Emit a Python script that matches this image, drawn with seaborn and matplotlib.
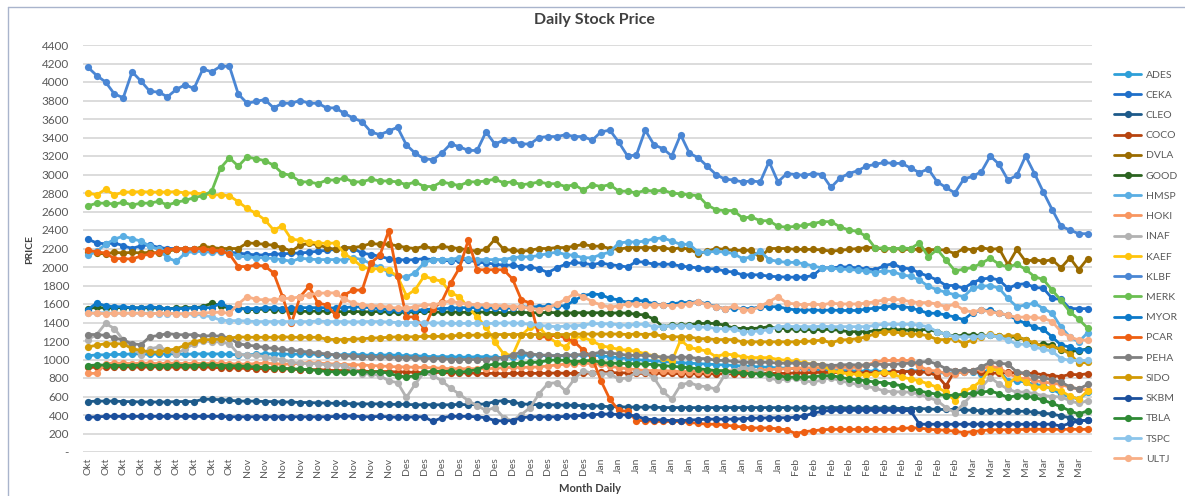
import matplotlib
matplotlib.use('Agg')
import matplotlib.pyplot as plt
import seaborn as sns
import pandas as pd
import numpy as np
from matplotlib.lines import Line2D
from matplotlib.ticker import FuncFormatter

# trading days per month label (x axis categories)
months = ['Okt', 'Nov', 'Des', 'Jan', 'Feb', 'Mar']
days_per_month = [18, 18, 22, 22, 20, 14]

# daily closing prices, one list per stock
ADES = [1040, 1050, 1050, 1055, 1055, 1060, 1060, 1055, 1060, 1060, 1060, 1055, 1060, 1060, 1060, 1060, 1055, 1050,
        1050, 1055, 1060, 1060, 1060, 1055, 1060, 1060, 1055, 1050, 1050, 1050, 1055, 1050, 1045, 1045, 1050, 1045,
        1040, 1040, 1035, 1030, 1030, 1030, 1025, 1025, 1030, 1030, 1025, 1020, 1030, 1040, 1050, 1045, 1040, 1040, 1040, 1045, 1045, 1045,
        1040, 1030, 1020, 1010, 1000, 990, 985, 980, 970, 965, 960, 955, 950, 945, 940, 935, 930, 925, 920, 915, 910, 905,
        900, 895, 890, 885, 880, 880, 880, 875, 875, 875, 870, 870, 870, 875, 880, 870, 860, 850, 860, 865,
        870, 845, 900, 880, 770, 770, 755, 730, 720, 680, 625, 600, 570, 645]
CEKA = [2300, 2260, 2250, 2260, 2230, 2200, 2230, 2240, 2210, 2200, 2200, 2190, 2200, 2190, 2180, 2170, 2160, 2150,
        2140, 2130, 2130, 2140, 2140, 2150, 2150, 2160, 2170, 2180, 2190, 2210, 2200, 2150, 2135, 2115, 2090, 2080,
        2075, 2080, 2090, 2080, 2075, 2065, 2075, 2080, 2050, 2045, 2030, 2020, 2020, 2000, 2000, 1980, 1940, 1990, 2030, 2050, 2040, 2025,
        2045, 2025, 2015, 2000, 2060, 2050, 2030, 2030, 2030, 2010, 2000, 1990, 1980, 1980, 1955, 1945, 1915, 1915, 1915, 1900, 1895, 1890,
        1890, 1890, 1910, 1990, 1990, 2000, 2000, 1990, 1980, 1970, 2015, 2035, 1990, 1980, 1935, 1900, 1860, 1800, 1800, 1770,
        1830, 1870, 1880, 1860, 1770, 1810, 1820, 1780, 1770, 1660, 1650, 1550, 1550, 1550]
CLEO = [545, 550, 550, 550, 545, 545, 540, 540, 540, 540, 545, 545, 545, 570, 570, 565, 560, 550,
        550, 550, 545, 545, 540, 540, 535, 535, 530, 530, 525, 525, 520, 520, 520, 520, 515, 515,
        515, 510, 510, 510, 510, 510, 515, 510, 515, 520, 545, 555, 540, 520, 515, 510, 510, 510, 505, 505, 500, 500,
        495, 490, 490, 485, 485, 485, 485, 480, 480, 480, 480, 480, 480, 480, 480, 480, 480, 480, 480, 480, 480, 480,
        475, 475, 475, 475, 480, 480, 475, 475, 475, 475, 475, 475, 470, 470, 470, 465, 460, 460, 460, 455,
        450, 445, 445, 445, 440, 440, 440, 430, 420, 410, 390, 370, 335, 345]
COCO = [915, 915, 915, 920, 920, 920, 915, 920, 920, 915, 920, 915, 920, 920, 915, 910, 910, 905,
        905, 900, 900, 900, 900, 895, 890, 890, 890, 885, 880, 880, 880, 875, 870, 870, 870, 865,
        865, 860, 860, 860, 860, 855, 855, 855, 850, 850, 850, 845, 850, 850, 850, 850, 850, 855, 850, 850, 850, 855,
        860, 860, 855, 855, 850, 850, 850, 850, 850, 845, 845, 845, 845, 845, 845, 845, 845, 845, 850, 850, 850, 850,
        855, 855, 860, 860, 860, 860, 855, 855, 855, 855, 855, 865, 870, 870, 865, 860, 825, 715, 880, 875,
        875, 860, 855, 850, 860, 855, 850, 850, 835, 825, 815, 840, 835, 845]
DVLA = [2160, 2150, 2140, 2160, 2150, 2160, 2150, 2160, 2150, 2170, 2190, 2200, 2190, 2225, 2210, 2200, 2200, 2200,
        2260, 2255, 2245, 2235, 2210, 2170, 2235, 2255, 2240, 2210, 2190, 2210, 2210, 2225, 2255, 2245, 2245, 2230,
        2210, 2200, 2225, 2200, 2225, 2210, 2200, 2185, 2170, 2190, 2300, 2190, 2180, 2170, 2180, 2200, 2200, 2210, 2210, 2225, 2245, 2225,
        2225, 2200, 2190, 2210, 2210, 2210, 2210, 2210, 2190, 2210, 2190, 2145, 2170, 2200, 2190, 2180, 2180, 2180, 2100, 2200, 2200, 2200,
        2190, 2190, 2190, 2185, 2170, 2180, 2190, 2200, 2210, 2210, 2190, 2200, 2190, 2190, 2190, 2185, 2190, 2180, 2145, 2200,
        2185, 2210, 2190, 2200, 2025, 2190, 2060, 2080, 2060, 2080, 1990, 2100, 1970, 2090]
GOOD = [1550, 1565, 1555, 1560, 1560, 1560, 1555, 1560, 1555, 1550, 1555, 1560, 1560, 1570, 1610, 1580, 1555, 1555,
        1540, 1540, 1545, 1540, 1530, 1525, 1520, 1520, 1525, 1520, 1520, 1515, 1520, 1515, 1515, 1520, 1510, 1510,
        1510, 1515, 1520, 1515, 1510, 1515, 1510, 1510, 1515, 1510, 1510, 1505, 1510, 1510, 1505, 1505, 1510, 1505, 1500, 1505, 1505, 1505,
        1505, 1500, 1505, 1500, 1490, 1480, 1435, 1355, 1370, 1370, 1375, 1390, 1390, 1390, 1370, 1340, 1335, 1335, 1340, 1355, 1335, 1335,
        1325, 1325, 1320, 1325, 1325, 1315, 1300, 1300, 1300, 1310, 1320, 1325, 1320, 1315, 1320, 1325, 1300, 1275, 1250, 1265,
        1265, 1260, 1260, 1250, 1245, 1240, 1215, 1155, 1165, 1155, 1100, 1090, 1095, 1115]
HMSP = [2125, 2170, 2245, 2300, 2335, 2305, 2280, 2225, 2190, 2100, 2060, 2150, 2170, 2165, 2160, 2165, 2150, 2115,
        2110, 2100, 2100, 2090, 2080, 2060, 2095, 2085, 2080, 2080, 2080, 2075, 2100, 2080, 2035, 2000, 1940, 1900,
        1890, 1940, 2045, 2080, 2080, 2080, 2100, 2090, 2080, 2080, 2080, 2080, 2100, 2110, 2110, 2125, 2145, 2160, 2135, 2125, 2100, 2100,
        2135, 2160, 2260, 2270, 2270, 2280, 2305, 2315, 2280, 2245, 2245, 2160, 2160, 2170, 2160, 2145, 2090, 2110, 2170, 2080, 2060, 2050,
        2050, 2035, 2010, 1990, 1990, 1975, 1975, 1965, 1955, 1940, 1960, 1950, 1915, 1900, 1860, 1790, 1755, 1725, 1700, 1680,
        1770, 1790, 1800, 1770, 1660, 1570, 1590, 1610, 1550, 1500, 1350, 1245, 1190, 1290]
HOKI = [850, 850, 955, 960, 960, 955, 960, 960, 955, 960, 960, 955, 960, 955, 960, 960, 955, 950,
        950, 955, 960, 955, 950, 950, 960, 965, 960, 955, 950, 945, 945, 940, 935, 930, 925, 920,
        920, 915, 915, 910, 905, 900, 900, 900, 900, 900, 905, 910, 915, 915, 915, 920, 930, 940, 950, 955, 960, 955,
        950, 930, 910, 900, 890, 880, 880, 880, 875, 870, 870, 870, 870, 875, 875, 880, 880, 880, 885, 890, 895, 900,
        905, 910, 910, 915, 915, 915, 915, 915, 940, 970, 990, 990, 990, 990, 925, 885, 875, 850, 845, 870,
        880, 900, 925, 910, 850, 805, 790, 775, 755, 745, 730, 700, 680, 670]
INAF = [1215, 1270, 1390, 1335, 1210, 1135, 1045, 1115, 1135, 1100, 1060, 1115, 1170, 1205, 1190, 1190, 1170, 1060,
        1045, 1045, 1030, 1010, 1000, 970, 960, 955, 955, 940, 940, 935, 890, 845, 845, 825, 770, 750,
        590, 735, 860, 825, 770, 690, 625, 555, 500, 450, 480, 370, 340, 405, 480, 630, 740, 750, 660, 790, 880, 850,
        845, 845, 790, 800, 860, 860, 800, 655, 570, 725, 750, 715, 705, 680, 835, 880, 915, 900, 870, 805, 775, 790,
        800, 770, 755, 780, 805, 770, 750, 730, 710, 690, 660, 650, 650, 645, 625, 590, 555, 480, 425, 525,
        625, 700, 805, 735, 680, 645, 650, 630, 610, 600, 595, 555, 525, 555]
KAEF = [2800, 2780, 2840, 2780, 2810, 2810, 2815, 2810, 2810, 2810, 2815, 2800, 2800, 2790, 2780, 2780, 2770, 2705,
        2633, 2580, 2510, 2400, 2445, 2300, 2290, 2270, 2260, 2255, 2260, 2145, 2080, 2000, 1980, 1980, 1965, 1900,
        1690, 1755, 1900, 1870, 1845, 1720, 1680, 1560, 1460, 1350, 1190, 1060, 1045, 1260, 1350, 1350, 1245, 1180, 1135, 1245, 1240, 1200,
        1150, 1130, 1110, 1100, 1090, 1060, 1040, 1020, 980, 1210, 1130, 1110, 1090, 1030, 1060, 1050, 1030, 1020, 1020, 1020, 1000, 990,
        980, 960, 950, 940, 880, 860, 845, 840, 830, 845, 860, 840, 810, 790, 770, 735, 700, 645, 555, 655,
        700, 770, 900, 880, 735, 810, 755, 700, 705, 690, 660, 605, 570, 660]
KLBF = [4160, 4070, 4000, 3870, 3830, 4110, 4010, 3900, 3890, 3840, 3920, 3970, 3930, 4140, 4110, 4170, 4170, 3870,
        3770, 3790, 3810, 3720, 3770, 3770, 3800, 3770, 3770, 3720, 3720, 3660, 3610, 3570, 3460, 3430, 3470, 3510,
        3320, 3230, 3170, 3160, 3230, 3330, 3300, 3260, 3260, 3460, 3330, 3370, 3370, 3330, 3330, 3400, 3410, 3410, 3430, 3410, 3410, 3370,
        3460, 3480, 3350, 3200, 3210, 3480, 3320, 3280, 3200, 3430, 3230, 3180, 3090, 3000, 2950, 2940, 2920, 2930, 2920, 3140, 2920, 3010,
        3000, 2990, 3010, 3000, 2860, 2960, 3010, 3040, 3090, 3110, 3130, 3120, 3120, 3070, 3020, 3060, 2920, 2860, 2800, 2950,
        2980, 3030, 3200, 3110, 2940, 2990, 3200, 3010, 2810, 2620, 2440, 2400, 2360, 2360]
MERK = [2660, 2690, 2690, 2680, 2700, 2670, 2690, 2690, 2710, 2670, 2700, 2720, 2750, 2770, 2820, 3070, 3180, 3090,
        3190, 3170, 3150, 3100, 3010, 2990, 2920, 2920, 2900, 2940, 2940, 2960, 2920, 2920, 2950, 2930, 2930, 2920,
        2890, 2920, 2870, 2870, 2920, 2900, 2880, 2920, 2920, 2930, 2950, 2910, 2920, 2890, 2900, 2920, 2900, 2900, 2870, 2890, 2830, 2890,
        2870, 2890, 2820, 2820, 2800, 2830, 2820, 2830, 2800, 2790, 2780, 2770, 2670, 2620, 2610, 2610, 2530, 2540, 2500, 2500, 2440, 2430,
        2440, 2450, 2470, 2490, 2490, 2435, 2400, 2385, 2330, 2205, 2205, 2195, 2205, 2200, 2260, 2110, 2190, 2075, 1960, 1975,
        1995, 2040, 2095, 2030, 2000, 2030, 1975, 1895, 1865, 1750, 1640, 1515, 1435, 1340]
MYOR = [1540, 1610, 1580, 1570, 1570, 1560, 1560, 1570, 1560, 1550, 1550, 1550, 1560, 1560, 1560, 1610, 1560, 1550,
        1550, 1550, 1560, 1560, 1550, 1555, 1560, 1560, 1560, 1560, 1555, 1560, 1570, 1565, 1560, 1550, 1540, 1530,
        1520, 1530, 1540, 1545, 1550, 1555, 1560, 1560, 1560, 1560, 1555, 1550, 1560, 1565, 1570, 1570, 1575, 1580, 1580, 1640, 1690, 1710,
        1700, 1660, 1645, 1615, 1640, 1630, 1600, 1590, 1600, 1615, 1615, 1625, 1600, 1570, 1550, 1560, 1550, 1550, 1570, 1570, 1570, 1550,
        1535, 1535, 1535, 1530, 1535, 1530, 1530, 1530, 1545, 1555, 1565, 1580, 1570, 1560, 1530, 1500, 1500, 1480, 1460, 1430,
        1505, 1535, 1530, 1500, 1480, 1430, 1390, 1350, 1325, 1245, 1155, 1135, 1100, 1105]
PCAR = [2180, 2165, 2150, 2090, 2090, 2085, 2120, 2140, 2160, 2180, 2200, 2195, 2195, 2200, 2180, 2175, 2140, 2005,
        2005, 2020, 2010, 1935, 1680, 1390, 1680, 1790, 1610, 1590, 1480, 1700, 1750, 1750, 2045, 2125, 2390, 1900,
        1460, 1460, 1335, 1550, 1625, 1825, 1990, 2290, 1970, 1970, 1970, 1970, 1870, 1645, 1610, 1250, 1240, 1270, 1230, 1190, 1100, 1020,
        770, 570, 450, 440, 340, 340, 330, 330, 330, 330, 320, 310, 300, 300, 290, 280, 270, 260, 260, 260, 250, 240,
        200, 220, 230, 240, 245, 245, 245, 245, 245, 245, 245, 245, 255, 260, 260, 245, 240, 235, 225, 210,
        220, 230, 240, 240, 240, 240, 245, 245, 245, 245, 245, 245, 245, 245]
PEHA = [1270, 1270, 1260, 1235, 1210, 1170, 1160, 1245, 1260, 1280, 1270, 1265, 1270, 1250, 1260, 1250, 1235, 1170,
        1155, 1145, 1130, 1120, 1110, 1100, 1090, 1080, 1070, 1060, 1050, 1040, 1035, 1030, 1030, 1025, 1025, 1020,
        1020, 1015, 1010, 1010, 1010, 1000, 1000, 1000, 1000, 1000, 1010, 1020, 1050, 1080, 1060, 1050, 1045, 1040, 1045, 1050, 1055, 1060,
        1080, 1070, 1060, 1045, 1045, 1045, 1035, 1025, 1025, 1025, 1025, 1010, 1010, 990, 990, 980, 970, 970, 970, 970, 960, 960,
        960, 955, 950, 945, 935, 940, 945, 940, 940, 950, 945, 945, 955, 960, 970, 980, 950, 900, 880, 885,
        880, 920, 970, 960, 950, 865, 850, 810, 805, 780, 755, 705, 680, 730]
SIDO = [1135, 1155, 1170, 1170, 1170, 1115, 1100, 1080, 1080, 1100, 1115, 1155, 1190, 1215, 1215, 1220, 1230, 1245,
        1240, 1240, 1240, 1240, 1245, 1240, 1240, 1240, 1240, 1220, 1215, 1215, 1220, 1225, 1230, 1235, 1240, 1245,
        1245, 1245, 1250, 1250, 1250, 1255, 1260, 1260, 1265, 1265, 1270, 1270, 1270, 1270, 1270, 1270, 1270, 1270, 1270, 1275, 1275, 1275,
        1275, 1275, 1275, 1270, 1275, 1270, 1275, 1250, 1245, 1245, 1245, 1225, 1225, 1215, 1215, 1215, 1190, 1190, 1190, 1190, 1190, 1190,
        1190, 1195, 1200, 1210, 1180, 1210, 1215, 1225, 1245, 1280, 1300, 1300, 1285, 1275, 1275, 1255, 1215, 1215, 1225, 1170,
        1215, 1245, 1275, 1250, 1255, 1255, 1210, 1180, 1140, 1135, 1115, 1060, 960, 970]
SKBM = [375, 380, 385, 385, 385, 385, 385, 385, 385, 385, 385, 385, 385, 385, 385, 385, 380, 380,
        380, 380, 380, 380, 380, 380, 380, 380, 380, 380, 385, 385, 390, 380, 380, 385, 380, 375,
        375, 380, 380, 330, 370, 385, 385, 385, 380, 370, 340, 335, 340, 370, 380, 380, 380, 380, 385, 390, 395, 400,
        410, 410, 405, 400, 390, 355, 350, 345, 340, 340, 345, 350, 355, 355, 355, 355, 360, 365, 365, 370, 370, 370,
        375, 390, 420, 440, 450, 450, 450, 450, 450, 450, 450, 450, 450, 445, 300, 300, 300, 300, 300, 300,
        300, 300, 300, 300, 300, 300, 300, 300, 300, 300, 280, 310, 335, 345]
TBLA = [935, 940, 940, 935, 935, 935, 940, 935, 935, 935, 940, 935, 935, 940, 940, 935, 935, 930,
        925, 920, 915, 910, 905, 900, 895, 890, 880, 870, 865, 860, 870, 870, 860, 870, 850, 825,
        810, 825, 860, 875, 870, 875, 860, 875, 890, 935, 950, 950, 955, 960, 970, 970, 990, 995, 990, 975, 985, 990,
        970, 960, 960, 955, 955, 950, 945, 935, 925, 920, 910, 900, 890, 880, 880, 860, 855, 845, 845, 840, 825, 810,
        810, 810, 815, 825, 825, 810, 790, 780, 770, 755, 750, 735, 715, 690, 660, 640, 625, 610, 615, 625,
        635, 645, 660, 630, 590, 610, 605, 590, 560, 525, 490, 445, 410, 445]
TSPC = [1500, 1505, 1505, 1500, 1500, 1500, 1500, 1500, 1495, 1495, 1495, 1490, 1490, 1480, 1460, 1425, 1420, 1420,
        1415, 1410, 1410, 1410, 1410, 1410, 1410, 1410, 1415, 1410, 1410, 1410, 1405, 1410, 1410, 1410, 1405, 1400,
        1400, 1400, 1395, 1395, 1395, 1390, 1390, 1390, 1390, 1390, 1390, 1395, 1395, 1390, 1380, 1370, 1360, 1355, 1360, 1365, 1370, 1390,
        1385, 1385, 1375, 1370, 1380, 1380, 1355, 1355, 1365, 1365, 1365, 1350, 1350, 1335, 1330, 1330, 1300, 1300, 1310, 1320, 1355, 1360,
        1355, 1355, 1355, 1360, 1355, 1355, 1355, 1355, 1355, 1370, 1380, 1380, 1380, 1380, 1370, 1355, 1300, 1275, 1245, 1245,
        1245, 1250, 1260, 1245, 1210, 1165, 1165, 1135, 1110, 1090, 1010, 990, 990, 990]
ULTJ = [1500, 1500, 1495, 1500, 1500, 1500, 1500, 1495, 1500, 1500, 1495, 1495, 1500, 1500, 1510, 1510, 1500, 1600,
        1680, 1650, 1645, 1645, 1660, 1660, 1680, 1700, 1715, 1720, 1720, 1650, 1610, 1590, 1580, 1580, 1565, 1555,
        1555, 1570, 1590, 1590, 1610, 1635, 1610, 1600, 1590, 1590, 1580, 1580, 1570, 1570, 1555, 1540, 1560, 1600, 1650, 1715, 1680, 1625,
        1590, 1565, 1580, 1600, 1600, 1590, 1590, 1590, 1580, 1590, 1600, 1625, 1590, 1570, 1550, 1575, 1540, 1530, 1575, 1625, 1680, 1610,
        1600, 1590, 1600, 1590, 1610, 1600, 1600, 1600, 1610, 1625, 1645, 1650, 1645, 1625, 1615, 1615, 1600, 1570, 1600, 1530,
        1515, 1535, 1515, 1500, 1480, 1455, 1460, 1455, 1445, 1410, 1300, 1245, 1210, 1210]

stocks = ['ADES', 'CEKA', 'CLEO', 'COCO', 'DVLA', 'GOOD', 'HMSP', 'HOKI', 'INAF', 'KAEF',
          'KLBF', 'MERK', 'MYOR', 'PCAR', 'PEHA', 'SIDO', 'SKBM', 'TBLA', 'TSPC', 'ULTJ']
series = [ADES, CEKA, CLEO, COCO, DVLA, GOOD, HMSP, HOKI, INAF, KAEF,
          KLBF, MERK, MYOR, PCAR, PEHA, SIDO, SKBM, TBLA, TSPC, ULTJ]

palette = {
    'ADES': '#2E9FD8', 'CEKA': '#1F6FC9', 'CLEO': '#1D5A8A', 'COCO': '#B7440F',
    'DVLA': '#9A6B00', 'GOOD': '#2B6320', 'HMSP': '#5AAEE3', 'HOKI': '#F89660',
    'INAF': '#B2B2B2', 'KAEF': '#FFC40C', 'KLBF': '#4A86D4', 'MERK': '#6BBF52',
    'MYOR': '#0C79C9', 'PCAR': '#EE5F12', 'PEHA': '#808080', 'SIDO': '#D29A05',
    'SKBM': '#1B4F9C', 'TBLA': '#2E8A34', 'TSPC': '#8CC5EB', 'ULTJ': '#F8AF86',
}

day_labels = [m for m, n in zip(months, days_per_month) for _ in range(n)]
n_days = len(day_labels)
for name, vals in zip(stocks, series):
    assert len(vals) == n_days, (name, len(vals))

df = pd.DataFrame({
    'day': np.tile(np.arange(n_days), len(stocks)),
    'stock': np.repeat(stocks, n_days),
    'price': np.concatenate(series),
})

sns.set_style('white')
plt.rcParams['font.family'] = ['Lato', 'DejaVu Sans']

W, H = 1185, 496
fig = plt.figure(figsize=(W / 100, H / 100), dpi=100)
ax = fig.add_axes([83 / W, 1 - 452 / H, (1092 - 83) / W, (452 - 45) / H])

sns.lineplot(data=df, x='day', y='price', hue='stock', hue_order=stocks,
             palette=palette, marker='o', markersize=5.2, markeredgewidth=0,
             linewidth=2.0, errorbar=None, legend=False, ax=ax)

ax.set_xlim(-0.55, n_days - 0.5)
ax.set_ylim(0, 4400)
ax.set_yticks(range(0, 4401, 200))
ax.yaxis.set_major_formatter(FuncFormatter(lambda v, p: '-' if v == 0 else f'{int(v)}'))
ax.grid(axis='y', color='#D9D9D9', linewidth=1.3)
ax.set_axisbelow(True)
for s in ax.spines.values():
    s.set_visible(False)

ax.set_xticks(range(0, n_days, 2))
ax.set_xticklabels(day_labels[::2], rotation=90, fontsize=7.5, color='#595959')
ax.tick_params(axis='y', length=0, pad=10, labelsize=8.5, labelcolor='#595959')
ax.tick_params(axis='x', length=0, pad=4)
ax.set_xlabel('')
ax.set_ylabel('')

fig.text(0.502, 1 - 20 / H, 'Daily Stock Price', ha='center', va='center',
         fontsize=11.5, fontweight='bold', color='#404040')
fig.text(30 / W, 1 - 250 / H, 'PRICE', rotation=90, ha='center', va='center',
         fontsize=7.5, fontweight='bold', color='#404040')
fig.text(590 / W, 1 - 489 / H, 'Month Daily', ha='center', va='center',
         fontsize=8, fontweight='bold', color='#404040')

handles = [Line2D([0], [0], color=palette[s], lw=2.0, marker='o', markersize=5.2,
                  markeredgewidth=0) for s in stocks]
fig.legend(handles, stocks, loc='upper left', bbox_to_anchor=(1109 / W, 1 - 65 / H),
           frameon=False, fontsize=7.5, labelcolor='#595959', borderpad=0,
           labelspacing=1.05, handlelength=2.6, handletextpad=0.45)

# chart frame
fig.add_artist(Line2D([8 / W, 8 / W], [0, 1 - 7 / H], transform=fig.transFigure,
                      color='#A9B4CC', lw=1))
fig.add_artist(Line2D([8 / W, 1], [1 - 7 / H, 1 - 7 / H], transform=fig.transFigure,
                      color='#A9B4CC', lw=1))

fig.savefig('out.png', dpi=100)
